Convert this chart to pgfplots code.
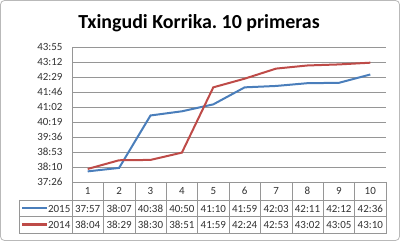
\documentclass[border=0pt]{standalone}
\usepackage{pgfplots}
\pgfplotsset{compat=1.18}
\usepackage{fontspec}
\setmainfont{Carlito}
\frenchspacing
\definecolor{s15}{RGB}{74,126,187}
\definecolor{s14}{RGB}{190,75,72}
\definecolor{gridc}{RGB}{150,150,150}
\definecolor{txt}{RGB}{50,50,50}
\begin{document}
\begin{tikzpicture}[x=1bp,y=1bp]
\useasboundingbox (0,0) rectangle (400,241);
\draw[gray!55, rounded corners=4bp, line width=0.8bp] (0.5,0.5) rectangle (399.5,240.5);
\node[font=\fontsize{20}{22}\selectfont\bfseries, anchor=base, inner sep=0] at (199,212.5) {Txingudi Korrika. 10 primeras};
\begin{axis}[at={(72bp,59bp)}, anchor=south west, scale only axis,
  width=314bp, height=135bp,
  xmin=0.5, xmax=10.5, ymin=2246.4, ymax=2635.2,
  xtick=\empty,
  ytick={2246.4,2289.6,2332.8,2376,2419.2,2462.4,2505.6,2548.8,2592,2635.2},
  yticklabels={37:26,38:10,38:53,39:36,40:19,41:02,41:46,42:29,43:12,43:55},
  yticklabel style={font=\fontsize{11}{12}\selectfont, text=txt, anchor=east, xshift=-6bp},
  major tick length=0pt,
  ymajorgrids, grid style={gridc, line width=0.6bp},
  axis x line*=bottom, axis y line*=left,
  axis line style={gridc, line width=0.6bp, -},
  clip=false]
\addplot[s15, line width=2bp, mark=none] coordinates {
 (1,2277) (2,2287) (3,2438) (4,2450) (5,2470) (6,2519) (7,2523) (8,2531) (9,2532) (10,2556)};
\addplot[s14, line width=2bp, mark=none] coordinates {
 (1,2284) (2,2309) (3,2310) (4,2331) (5,2519) (6,2544) (7,2573) (8,2582) (9,2585) (10,2590)};
\end{axis}
% data table
\begin{scope}[gridc, line width=0.6bp]
\foreach \k in {0,...,10} \draw ({72+\k*31.4},59) -- ({72+\k*31.4},7.5);
\draw (72,59) -- (386,59);
\draw (19,41) -- (386,41);
\draw (19,24.5) -- (386,24.5);
\draw (19,7.5) -- (386,7.5);
\draw (19,41) -- (19,7.5);
\end{scope}
\begin{scope}[font=\fontsize{11}{12}\selectfont, text=txt]
\foreach \v [count=\i] in {1,2,3,4,5,6,7,8,9,10}
  \node at ({72+(\i-0.5)*31.4},50) {\v};
\foreach \v [count=\i] in {37:57,38:07,40:38,40:50,41:10,41:59,42:03,42:11,42:12,42:36}
  \node at ({72+(\i-0.5)*31.4},32.5) {\v};
\foreach \v [count=\i] in {38:04,38:29,38:30,38:51,41:59,42:24,42:53,43:02,43:05,43:10}
  \node at ({72+(\i-0.5)*31.4},16) {\v};
\node[anchor=east, inner sep=1.5bp] at (72,32.5) {2015};
\node[anchor=east, inner sep=1.5bp] at (72,16) {2014};
\end{scope}
\draw[s15, line width=2bp] (22,33) -- (47,33);
\draw[s14, line width=2bp] (22,16.5) -- (47,16.5);
\end{tikzpicture}
\end{document}
